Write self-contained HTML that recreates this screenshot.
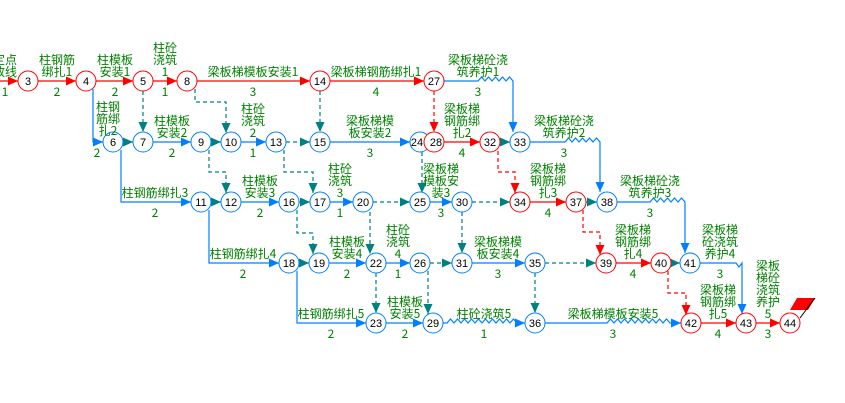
<!DOCTYPE html>
<html><head><meta charset="utf-8"><style>
html,body{margin:0;padding:0;background:#fff;}
svg{display:block;}
.l{font-family:"WenQuanYi Zen Hei","Noto Sans CJK SC",sans-serif;font-size:12px;fill:#008000;text-anchor:middle;}
.n{font-family:"Liberation Sans",sans-serif;font-size:11px;fill:#000;text-anchor:middle;}
.r{stroke:#ff0000;fill:none;stroke-width:1.2}
.b{stroke:#0080ff;fill:none;stroke-width:1.2}
.t{stroke:#008080;fill:none;stroke-width:1.2}
.d{stroke-dasharray:4,3}
circle{fill:#fff;stroke-width:1}
</style></head><body>
<svg width="845" height="403" viewBox="0 0 845 403" xmlns="http://www.w3.org/2000/svg">
<defs>
<marker id="mr" markerUnits="userSpaceOnUse" markerWidth="11" markerHeight="10" refX="10" refY="4.5" orient="auto"><path d="M0,0L10,4.5L0,9z" fill="#ff0000"/></marker>
<marker id="mb" markerUnits="userSpaceOnUse" markerWidth="11" markerHeight="10" refX="10" refY="4.5" orient="auto"><path d="M0,0L10,4.5L0,9z" fill="#0080ff"/></marker>
<marker id="mt" markerUnits="userSpaceOnUse" markerWidth="11" markerHeight="10" refX="10" refY="4.5" orient="auto"><path d="M0,0L10,4.5L0,9z" fill="#008080"/></marker>
</defs>
<g class="r" marker-end="url(#mr)">
<path d="M0,81H18"/><path d="M38,81H76"/><path d="M96,81H133"/><path d="M153,81H177"/><path d="M197,81H310"/><path d="M330,81H424"/>
<path d="M444,142H480"/><path d="M530,202H566"/><path d="M616,263H651"/><path d="M701,323H736"/><path d="M756,323H780"/>
</g>
<g class="r d" marker-end="url(#mr)">
<path d="M434,91V132"/><path d="M498,151V172H515V193"/>
<path d="M583,210V232H600V255"/><path d="M668,271V293H686V315"/>
</g>
<g class="b" marker-end="url(#mb)">
<path d="M93,89V142H103"/><path d="M121,150V202H191"/><path d="M209,210V263H279"/><path d="M297,271V323H366"/>
<path d="M153,142H191"/><path d="M241,142H266"/><path d="M330,142H410"/>
<path d="M241,202H279"/><path d="M330,202H353"/><path d="M430,202H452"/>
<path d="M329,263H366"/><path d="M386,263H410"/><path d="M472,263H525"/>
<path d="M386,323H423"/>
<path d="M443,323H447l3.5,-4 3.5,4l3.5,-4 3.5,4l3.5,-4 3.5,4l3.5,-4 3.5,4l3.5,-4 3.5,4l3.5,-4 3.5,4l3.5,-4 3.5,4l3.5,-4 3.5,4l3.5,-4 3.5,4l3.5,-4 3.5,4H525"/>
<path d="M545,323H607l3.5,-4 3.5,4l3.5,-4 3.5,4l3.5,-4 3.5,4l3.5,-4 3.5,4l3.5,-4 3.5,4l3.5,-4 3.5,4l3.5,-4 3.5,4l3.5,-4 3.5,4l3.5,-4 3.5,4H681"/>
<path d="M444,81H478l3.5,-4 3.5,4l3.5,-4 3.5,4l3.5,-4 3.5,4l3.5,-4 3.5,4l3.5,-4 3.5,4V132"/>
<path d="M530,142H565l3.5,-4 3.5,4l3.5,-4 3.5,4l3.5,-4 3.5,4l3.5,-4 3.5,4l3.5,-4 3.5,4V192"/>
<path d="M617,202H650l3.5,-4 3.5,4l3.5,-4 3.5,4l3.5,-4 3.5,4l3.5,-4 3.5,4l3.5,-4 3.5,4V253"/>
<path d="M700,263H736l3,4 3,-4V314"/>
</g>
<g class="t" marker-end="url(#mt)">
<path d="M123,142H133"/><path d="M211,142H221"/><path d="M211,202H221"/><path d="M299,202H310"/>
<path d="M299,263H309"/><path d="M500,142H510"/><path d="M586,202H597"/><path d="M671,263H680"/>
</g>
<g class="t d" marker-end="url(#mt)">
<path d="M143,91V132"/><path d="M195,89V102H226V133"/><path d="M286,142H310"/><path d="M320,91V132"/>
<path d="M209,150V172H226V193"/><path d="M284,150V172H313V193"/><path d="M373,202H410"/><path d="M422,152V193"/>
<path d="M472,202H510"/><path d="M297,210V233H313V254"/><path d="M370,212V254"/><path d="M462,212V253"/>
<path d="M430,263H452"/><path d="M376,273V313"/><path d="M428,271V314"/><path d="M545,263H596"/><path d="M535,273V313"/>
</g>
<path d="M797,298H815L808,310H790z" fill="#ff0000"/>
<path d="M815,298L800,318" stroke="#000" stroke-width="1"/>
<g class="n">
<g stroke="#ff0000">
<circle cx="28" cy="81" r="10"/><circle cx="86" cy="81" r="10"/><circle cx="143" cy="81" r="10"/><circle cx="187" cy="81" r="10"/><circle cx="320" cy="81" r="10"/><circle cx="434" cy="81" r="10"/>
</g>
<g stroke="#0080ff">
<circle cx="113" cy="142" r="10"/><circle cx="143" cy="142" r="10"/><circle cx="201" cy="142" r="10"/><circle cx="231" cy="142" r="10"/><circle cx="276" cy="142" r="10"/><circle cx="320" cy="142" r="10"/><circle cx="420" cy="142" r="10"/><circle cx="520" cy="142" r="10"/>
<circle cx="201" cy="202" r="10"/><circle cx="231" cy="202" r="10"/><circle cx="289" cy="202" r="10"/><circle cx="320" cy="202" r="10"/><circle cx="363" cy="202" r="10"/><circle cx="420" cy="202" r="10"/><circle cx="462" cy="202" r="10"/><circle cx="607" cy="202" r="10"/>
<circle cx="289" cy="263" r="10"/><circle cx="319" cy="263" r="10"/><circle cx="376" cy="263" r="10"/><circle cx="420" cy="263" r="10"/><circle cx="462" cy="263" r="10"/><circle cx="535" cy="263" r="10"/><circle cx="690" cy="263" r="10"/>
<circle cx="376" cy="323" r="10"/><circle cx="433" cy="323" r="10"/><circle cx="535" cy="323" r="10"/>
</g>
<g stroke="#ff0000">
<circle cx="434" cy="142" r="10"/><circle cx="490" cy="142" r="10"/><circle cx="520" cy="202" r="10"/><circle cx="576" cy="202" r="10"/><circle cx="606" cy="263" r="10"/><circle cx="661" cy="263" r="10"/><circle cx="691" cy="323" r="10"/><circle cx="746" cy="323" r="10"/><circle cx="790" cy="323" r="10"/>
</g>
</g>
<g class="n">
<text x="28" y="85">3</text><text x="86" y="85">4</text><text x="143" y="85">5</text><text x="187" y="85">8</text><text x="320" y="85">14</text><text x="434" y="85">27</text>
<text x="113" y="146">6</text><text x="143" y="146">7</text><text x="201" y="146">9</text><text x="231" y="146">10</text><text x="276" y="146">13</text><text x="320" y="146">15</text><text x="417" y="146">24</text><text x="436" y="146">28</text><text x="490" y="146">32</text><text x="520" y="146">33</text>
<text x="201" y="206">11</text><text x="231" y="206">12</text><text x="289" y="206">16</text><text x="320" y="206">17</text><text x="363" y="206">20</text><text x="420" y="206">25</text><text x="462" y="206">30</text><text x="520" y="206">34</text><text x="576" y="206">37</text><text x="607" y="206">38</text>
<text x="289" y="267">18</text><text x="319" y="267">19</text><text x="376" y="267">22</text><text x="420" y="267">26</text><text x="462" y="267">31</text><text x="535" y="267">35</text><text x="606" y="267">39</text><text x="661" y="267">40</text><text x="690" y="267">41</text>
<text x="376" y="327">23</text><text x="433" y="327">29</text><text x="535" y="327">36</text><text x="691" y="327">42</text><text x="746" y="327">43</text><text x="790" y="327">44</text>
</g>
<g class="l">
<text x="17" y="64" style="text-anchor:end">定点</text><text x="17" y="76" style="text-anchor:end">放线</text><text x="5" y="96">1</text>
<text x="57" y="64">柱钢筋</text><text x="57" y="76">绑扎1</text><text x="57" y="96">2</text>
<text x="115" y="64">柱模板</text><text x="115" y="76">安装1</text><text x="115" y="96">2</text>
<text x="165" y="52">柱砼</text><text x="165" y="64">浇筑</text><text x="165" y="76">1</text><text x="165" y="96">1</text>
<text x="253" y="76">梁板梯模板安装1</text><text x="253" y="96">3</text>
<text x="376" y="76">梁板梯钢筋绑扎1</text><text x="376" y="96">4</text>
<text x="478" y="64">梁板梯砼浇</text><text x="478" y="76">筑养护1</text><text x="478" y="96">3</text>
<text x="108" y="111">柱钢</text><text x="108" y="123">筋绑</text><text x="108" y="135">扎2</text><text x="97" y="157">2</text>
<text x="172" y="125">柱模板</text><text x="172" y="137">安装2</text><text x="172" y="157">2</text>
<text x="253" y="113">柱砼</text><text x="253" y="125">浇筑</text><text x="253" y="137">2</text><text x="253" y="157">1</text>
<text x="370" y="125">梁板梯模</text><text x="370" y="137">板安装2</text><text x="370" y="157">3</text>
<text x="462" y="113">梁板梯</text><text x="462" y="125">钢筋绑</text><text x="462" y="137">扎2</text><text x="462" y="157">4</text>
<text x="564" y="125">梁板梯砼浇</text><text x="564" y="137">筑养护2</text><text x="564" y="157">3</text>
<text x="155" y="197">柱钢筋绑扎3</text><text x="155" y="217">2</text>
<text x="260" y="185">柱模板</text><text x="260" y="197">安装3</text><text x="260" y="217">2</text>
<text x="340" y="173">柱砼</text><text x="340" y="185">浇筑</text><text x="340" y="197">3</text><text x="340" y="217">1</text>
<text x="441" y="173">梁板梯</text><text x="441" y="185">模板安</text><text x="441" y="197">装3</text><text x="441" y="217">3</text>
<text x="548" y="173">梁板梯</text><text x="548" y="185">钢筋绑</text><text x="548" y="197">扎3</text><text x="548" y="217">4</text>
<text x="650" y="185">梁板梯砼浇</text><text x="650" y="197">筑养护3</text><text x="650" y="217">3</text>
<text x="243" y="258">柱钢筋绑扎4</text><text x="243" y="278">2</text>
<text x="347" y="246">柱模板</text><text x="347" y="258">安装4</text><text x="347" y="278">2</text>
<text x="398" y="234">柱砼</text><text x="398" y="246">浇筑</text><text x="398" y="258">4</text><text x="398" y="278">1</text>
<text x="498" y="246">梁板梯模</text><text x="498" y="258">板安装4</text><text x="498" y="278">3</text>
<text x="633" y="234">梁板梯</text><text x="633" y="246">钢筋绑</text><text x="633" y="258">扎4</text><text x="633" y="278">4</text>
<text x="720" y="234">梁板梯</text><text x="720" y="246">砼浇筑</text><text x="720" y="258">养护4</text><text x="720" y="278">3</text>
<text x="331" y="318">柱钢筋绑扎5</text><text x="331" y="338">2</text>
<text x="405" y="306">柱模板</text><text x="405" y="318">安装5</text><text x="405" y="338">2</text>
<text x="484" y="318">柱砼浇筑5</text><text x="484" y="338">1</text>
<text x="613" y="318">梁板梯模板安装5</text><text x="613" y="338">3</text>
<text x="718" y="294">梁板梯</text><text x="718" y="306">钢筋绑</text><text x="718" y="318">扎5</text><text x="718" y="338">4</text>
<text x="768" y="270">梁板</text><text x="768" y="282">梯砼</text><text x="768" y="294">浇筑</text><text x="768" y="306">养护</text><text x="768" y="318">5</text><text x="768" y="338">3</text>
</g>
</svg>
</body></html>
